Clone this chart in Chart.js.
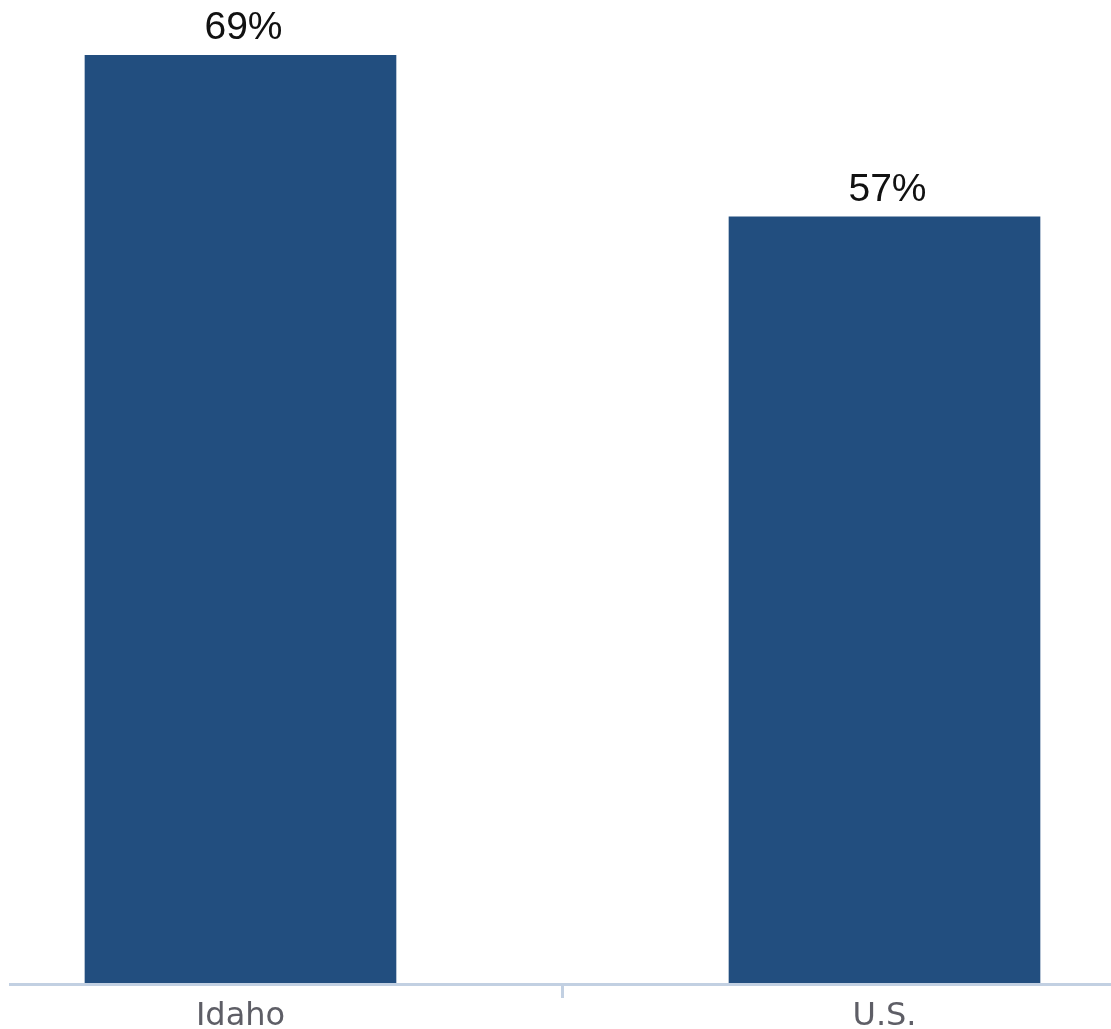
<!DOCTYPE html>
<html>
<head>
<meta charset="utf-8">
<script src="https://cdn.jsdelivr.net/npm/chart.js@4/dist/chart.umd.min.js"></script>
<style>
  html, body { margin: 0; padding: 0; background: #ffffff; overflow: hidden; }
  #wrap { position: relative; width: 1111px; height: 1029px; }
</style>
</head>
<body>
<div id="wrap"><canvas id="c"></canvas></div>
<script>
// ---- data ----
const categories = ['Idaho', 'U.S.'];
const values = [69, 57];
const valueSuffix = '%';

// ---- styles ----
const barColor = '#224e7f';
const axisColor = '#c2d0e2';
const tickLabelColor = '#5e5e66';

const points = categories.map((c, i) => ({ x: i, y: values[i] }));

const valueLabels = {
  id: 'valueLabels',
  afterDatasetsDraw(chart) {
    const ctx = chart.ctx;
    const meta = chart.getDatasetMeta(0);
    ctx.save();
    ctx.font = '39px "Liberation Sans", Arial, sans-serif';
    ctx.fillStyle = '#111111';
    ctx.textAlign = 'center';
    ctx.textBaseline = 'alphabetic';
    meta.data.forEach((bar, i) => {
      ctx.fillText(values[i] + valueSuffix, bar.x + 3, bar.y - 16);
    });
    ctx.restore();
  }
};

new Chart(document.getElementById('c'), {
  type: 'bar',
  data: {
    datasets: [{
      data: points,
      backgroundColor: barColor,
      borderWidth: 0,
      barThickness: 311
    }]
  },
  options: {
    responsive: true,
    maintainAspectRatio: false,
    devicePixelRatio: 1,
    animation: false,
    layout: { padding: { left: 10, right: 0, top: 0, bottom: 0 } },
    plugins: { legend: { display: false }, tooltip: { enabled: false } },
    scales: {
      x: {
        type: 'linear',
        offset: false,
        bounds: 'data',
        min: -0.3579,
        max: 1.3517,
        afterBuildTicks(axis) {
          axis.ticks = [{ value: 0 }, { value: 0.5 }, { value: 1 }];
        },
        afterFit(axis) { axis.height = 44.5; },
        grid: {
          offset: false,
          drawOnChartArea: false,
          drawTicks: true,
          tickLength: 13.5,
          lineWidth: 3,
          color: (ctx) => (ctx.tick && ctx.tick.value === 0.5) ? axisColor : 'rgba(0,0,0,0)'
        },
        border: { display: true, color: axisColor, width: 3, z: 1 },
        ticks: {
          autoSkip: false,
          maxRotation: 0,
          padding: -1,
          color: tickLabelColor,
          font: { family: '"DejaVu Sans", sans-serif', size: 32 },
          callback: (v) => Number.isInteger(v) && categories[v] !== undefined ? categories[v] : ''
        }
      },
      y: {
        display: false,
        min: 0,
        max: 73.1
      }
    }
  },
  plugins: [valueLabels]
});
</script>
</body>
</html>
